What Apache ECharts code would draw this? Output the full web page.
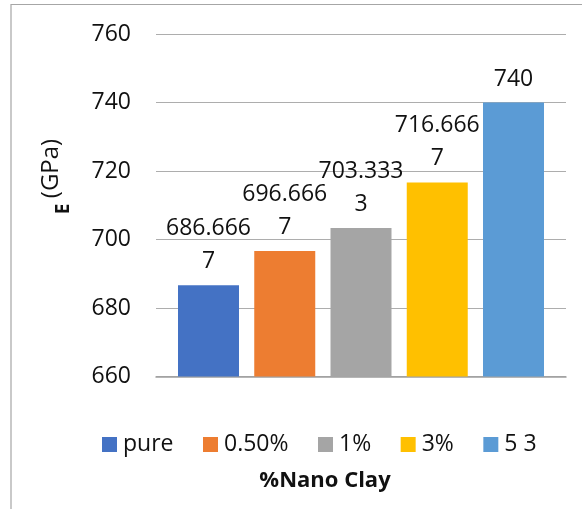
<!DOCTYPE html>
<html>
<head>
<meta charset="utf-8">
<script src="https://cdn.jsdelivr.net/npm/echarts@6/dist/echarts.min.js"></script>
<style>
  html, body { margin: 0; padding: 0; background: #fff; }
  #chart { width: 582px; height: 509px; }
</style>
</head>
<body>
<div id="chart"></div>
<script>
// Elastic modulus by nano clay content
const seriesNames = ['pure', '0.50%', '1%', '3%', '5 3'];
const modulusValues = [686.6667, 696.6667, 703.3333, 716.6667, 740];
const barColors = ['#4472C4', '#ED7D31', '#A5A5A5', '#FFC000', '#5B9BD5'];
const categories = ['%Nano Clay'];
const yTicks = { min: 660, max: 760, interval: 20 };

const FONT = '"Open Sans", "Liberation Sans", sans-serif';

// Value label: round to 4 decimals, wrap long numbers after 7 characters
function labelText(v) {
  const s = String(Number(v.toFixed(4)));
  return s.length > 7 ? s.slice(0, 7) + '\n' + s.slice(7) : s;
}

const series = seriesNames.map((name, i) => ({
  name: name,
  type: 'bar',
  data: [modulusValues[i]],
  barWidth: 61,
  barGap: '25%',
  itemStyle: { color: barColors[i] },
  label: {
    show: true,
    position: 'top',
    distance: 7,
    color: '#111',
    fontFamily: FONT,
    fontSize: 23,
    lineHeight: 33,
    formatter: p => labelText(p.value)
  }
}));

const chart = echarts.init(document.getElementById('chart'));
chart.setOption({
  animation: false,
  backgroundColor: '#fff',
  grid: { left: 156, right: 16, top: 34, bottom: 132.5 },
  xAxis: {
    type: 'category',
    data: categories,
    axisLine: { show: true, lineStyle: { color: '#9E9E9E', width: 1.5 } },
    axisTick: { show: false },
    axisLabel: { show: false }
  },
  yAxis: {
    type: 'value',
    min: yTicks.min,
    max: yTicks.max,
    interval: yTicks.interval,
    axisLine: { show: false },
    axisTick: { show: false },
    axisLabel: { color: '#111', fontFamily: FONT, fontSize: 23, margin: 25 },
    splitLine: { lineStyle: { color: '#ADADAD', width: 1.2 } }
  },
  legend: {
    data: seriesNames,
    left: 97,
    top: 428,
    itemWidth: 15,
    itemHeight: 15,
    itemGap: 29.5,
    icon: 'rect',
    textStyle: { color: '#111', fontFamily: FONT, fontSize: 23, padding: [0, 0, 0, 1] }
  },
  graphic: [
    {
      type: 'rect',
      shape: { x: 11, y: 4.5, width: 800, height: 700 },
      style: { fill: 'none', stroke: '#A6A6A6', lineWidth: 1.2 },
      silent: true
    },
    {
      type: 'text',
      x: 325, y: 481,
      style: {
        text: '%Nano Clay',
        fill: '#111',
        font: 'bold 22px ' + FONT,
        align: 'center',
        verticalAlign: 'middle'
      }
    },
    {
      type: 'text',
      x: 64, y: 209,
      rotation: Math.PI / 2,
      style: {
        text: 'E',
        fill: '#111',
        font: 'bold 19px ' + FONT,
        align: 'center',
        verticalAlign: 'middle'
      }
    },
    {
      type: 'text',
      x: 51, y: 168.5,
      rotation: Math.PI / 2,
      style: {
        text: '(GPa)',
        fill: '#111',
        font: '24px ' + FONT,
        align: 'center',
        verticalAlign: 'middle'
      }
    }
  ],
  series: series
});
</script>
</body>
</html>
